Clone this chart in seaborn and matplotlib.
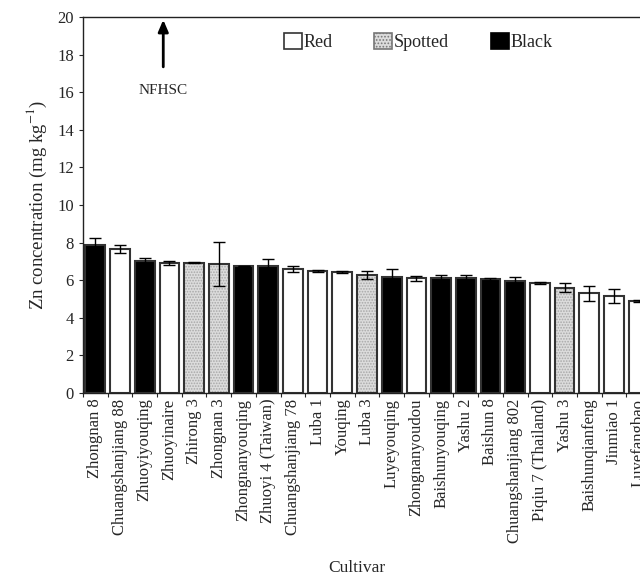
import matplotlib
matplotlib.use("Agg")
import matplotlib.pyplot as plt
import seaborn as sns
import numpy as np
import pandas as pd
from matplotlib.patches import Patch

cultivars = ["Zhongnan 8", "Chuangshanjiang 88", "Zhuoyiyouqing", "Zhuoyinaire",
             "Zhirong 3", "Zhongnan 3", "Zhongnanyouqing", "Zhuoyi 4 (Taiwan)",
             "Chuangshanjiang 78", "Luba 1", "Youqing", "Luba 3", "Luyeyouqing",
             "Zhongnanyoudou", "Baishunyouqing", "Yashu 2", "Baishun 8",
             "Chuangshanjiang 802", "Piqiu 7 (Thailand)", "Yashu 3",
             "Baishunqianfeng", "Jinmiao 1", "Luyefangbao"]
zn_values = [7.87, 7.65, 7.02, 6.93, 6.92, 6.86, 6.77, 6.77, 6.6, 6.5, 6.45,
             6.27, 6.18, 6.1, 6.12, 6.12, 6.06, 5.97, 5.83, 5.6, 5.3, 5.15, 4.9]
zn_errors = [0.35, 0.2, 0.18, 0.1, 0.03, 1.15, 0.0, 0.35, 0.17, 0.05, 0.05,
             0.22, 0.42, 0.13, 0.16, 0.16, 0.08, 0.2, 0.05, 0.23, 0.4, 0.38, 0.04]
seed_colour = ["Black", "Red", "Black", "Red", "Spotted", "Spotted", "Black",
               "Black", "Red", "Red", "Red", "Spotted", "Black", "Red", "Black",
               "Black", "Black", "Black", "Red", "Spotted", "Red", "Red", "Red"]
legend_order = ["Red", "Spotted", "Black"]
yticks = [0, 2, 4, 6, 8, 10, 12, 14, 16, 18, 20]

df = pd.DataFrame({"Cultivar": cultivars, "Zn": zn_values, "err": zn_errors,
                   "Colour": seed_colour})

sns.set_style("ticks")
plt.rcParams["font.family"] = ["Liberation Serif", "DejaVu Serif"]
plt.rcParams["mathtext.fontset"] = "stix"
plt.rcParams["hatch.linewidth"] = 0.8

fig = plt.figure(figsize=(6.4, 5.77), dpi=100)
ax = fig.add_axes([83 / 640, 1 - 393 / 577, (651 - 83) / 640, (393 - 17) / 577])

face = {"Red": "white", "Spotted": "#dcdcdc", "Black": "black"}
sns.barplot(data=df, x="Cultivar", y="Zn", hue="Colour", hue_order=legend_order,
            palette=face, dodge=False, width=0.8, linewidth=0, ax=ax,
            legend=False, order=cultivars, saturation=1)
for p in ax.patches:
    fc = p.get_facecolor()
    if abs(fc[0] - 0.862) < 0.03:
        p.set_hatch("......")
        p.set_edgecolor("#a8a8a8")
        p.set_linewidth(0)
# outlines
sns.barplot(data=df, x="Cultivar", y="Zn", order=cultivars, fill=False,
            color="#333333", width=0.8, linewidth=1.5, ax=ax, errorbar=None)

pos = np.arange(len(cultivars))
ax.errorbar(pos, df["Zn"], yerr=df["err"], fmt="none", ecolor="black",
            elinewidth=1, capsize=4.5, capthick=1)

ax.set_ylim(0, 20)
ax.set_yticks(yticks)
ax.set_xlim(-0.5, len(cultivars) - 0.5)
ax.set_xticks(pos)
ax.set_xticklabels(cultivars, rotation=90, fontsize=12)
ax.tick_params(axis="x", length=0, pad=4)
ax.set_xticks(np.arange(len(cultivars) + 1) - 0.5, minor=True)
ax.tick_params(axis="x", which="minor", length=3, width=0.8, direction="out")
ax.tick_params(axis="y", labelsize=12, length=3, width=0.8, direction="out")
ax.set_xlabel("")
ax.set_ylabel("Zn concentration (mg kg$^{-1}$)", fontsize=13.5, labelpad=6)
fig.text(357 / 640, 1 - 568 / 577, "Cultivar", ha="center", va="center",
         fontsize=12.5)
for s in ["left", "bottom", "top"]:
    ax.spines[s].set_color("#222222")
    ax.spines[s].set_linewidth(1)
ax.spines["right"].set_visible(False)

ax.annotate("", xy=(2.75, 20), xytext=(2.75, 17.2),
            arrowprops=dict(arrowstyle="-|>,head_width=0.3,head_length=0.7",
                            color="black", lw=2))
ax.text(2.75, 16.1, "NFHSC", ha="center", va="center", fontsize=11)

handles = [Patch(facecolor="white", edgecolor="#333333", lw=1.2, label="Red"),
           Patch(facecolor="#dcdcdc", edgecolor="#777777", lw=1.2, label="Spotted",
                 hatch="....."),
           Patch(facecolor="black", edgecolor="black", lw=1.2, label="Black")]
ax.legend(handles=handles, loc="center", bbox_to_anchor=(0.59, 0.934), ncol=3,
          frameon=False, fontsize=13, handlelength=1.0, handleheight=1.0,
          handletextpad=0.1, columnspacing=2.3)

fig.savefig("out.png", dpi=100)
